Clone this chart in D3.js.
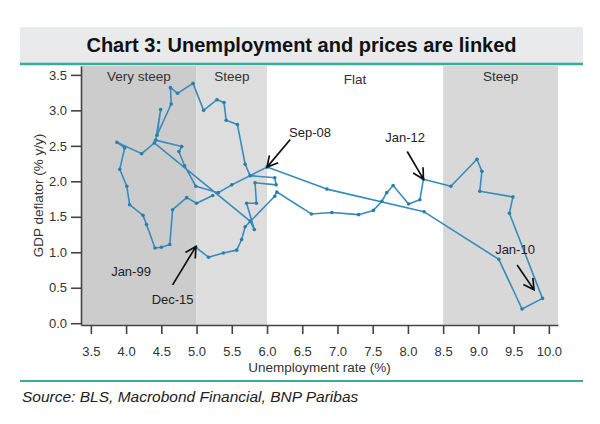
<!DOCTYPE html>
<html><head><meta charset="utf-8">
<script src="https://cdn.jsdelivr.net/npm/d3@7"></script>
<style>
body{margin:0;background:#fff}
svg{display:block}
text{font-family:"Liberation Sans",Arial,Helvetica,sans-serif}
</style>
</head><body>
<svg id="chart" width="600" height="424"></svg>
<script>
// ---- data (path order as drawn) ----
const unemployment = [5.23,5.00,4.86,4.66,4.62,4.50,4.41,4.29,4.24,4.05,4.01,3.91,3.98,3.87,4.22,4.40,
  5.76,5.82,5.71,5.85,5.83,6.13,6.11,5.76,5.69,5.58,5.42,5.39,5.29,5.10,4.95,4.73,4.63,4.64,4.44,4.49,4.42,
  4.79,4.75,4.83,4.99,5.31,5.50,6.00,6.85,8.23,9.29,9.62,9.91,9.44,9.49,9.02,9.05,8.98,8.61,8.22,8.17,8.01,
  7.79,7.70,7.63,7.51,7.30,6.92,6.63,6.14,6.11,5.69,5.64,5.57,5.38,5.17,4.99];
const deflator = [1.80,1.69,1.77,1.60,1.11,1.07,1.06,1.39,1.52,1.67,1.93,2.17,2.47,2.55,2.39,2.54,
  1.44,1.32,1.69,1.69,1.98,1.95,2.05,2.08,2.24,2.80,2.86,3.11,3.15,3.00,3.38,3.24,3.32,3.09,2.65,3.01,2.58,
  2.49,2.42,2.22,1.93,1.84,1.95,2.20,1.89,1.57,0.90,0.20,0.35,1.55,1.78,1.86,2.14,2.31,1.93,2.03,1.74,1.68,
  1.94,1.84,1.72,1.59,1.53,1.56,1.54,1.85,1.79,1.36,1.18,1.03,0.99,0.93,1.07];

const xTicks = [3.5,4.0,4.5,5.0,5.5,6.0,6.5,7.0,7.5,8.0,8.5,9.0,9.5,10.0];
const yTicks = [0.0,0.5,1.0,1.5,2.0,2.5,3.0,3.5];
const xDomain = [3.36, 10.13];
const yDomain = [-0.025, 3.625];

const regionNames = ["Very steep","Steep","Flat","Steep"];
const regionStart = [3.36, 5.0, 6.0, 8.5];
const regionEnd   = [5.0, 6.0, 8.5, 10.13];
const regionLabelY = [3.41, 3.41, 3.37, 3.41];

const annotLabels = ["Sep-08","Jan-12","Jan-10","Jan-99","Dec-15"];
const annotTextX  = [6.61, 7.96, 9.52, 4.07, 4.66];
const annotTextY  = [2.62, 2.55, 0.98, 0.67, 0.27];
const arrowFromX  = [6.33, 7.99, 9.55, null, 4.66];
const arrowFromY  = [2.59, 2.42, 0.82, null, 0.54];
const arrowToX    = [6.00, 8.22, 9.79, null, 4.99];
const arrowToY    = [2.20, 2.03, 0.47, null, 1.08];

const titleText = "Chart 3: Unemployment and prices are linked";
const xLabel = "Unemployment rate (%)";
const yLabel = "GDP deflator (% y/y)";
const sourceText = "Source: BLS, Macrobond Financial, BNP Paribas";

// ---- layout & style ----
const W = 600, H = 424;
const plot = {left:81, right:558, top:66, bottom:325};
const regionFill = ["#cccccc","#dddddd",null,"#d8d8d8"];
const lineColor = "#368cbd";
const teal = "#35ad98";

const svg = d3.select("#chart");
svg.append("rect").attr("width",W).attr("height",H).attr("fill","#fff");

// title banner
svg.append("rect").attr("x",20).attr("y",27).attr("width",563).attr("height",37).attr("fill","#e8eaec");
svg.append("line").attr("x1",20).attr("x2",583).attr("y1",64).attr("y2",64)
  .attr("stroke",teal).attr("stroke-width",2.5);
svg.append("text").attr("x",301.5).attr("y",52).attr("text-anchor","middle")
  .attr("font-size",20).attr("font-weight","bold").attr("fill","#111").text(titleText);

const x = d3.scaleLinear().domain(xDomain).range([plot.left, plot.right]);
const y = d3.scaleLinear().domain(yDomain).range([plot.bottom, plot.top]);

// regions
const regions = regionNames.map((n,i)=>({name:n,a:regionStart[i],b:regionEnd[i],ly:regionLabelY[i],fill:regionFill[i]}));
svg.append("g").selectAll("rect").data(regions.filter(r=>r.fill)).join("rect")
  .attr("x",d=>x(d.a)).attr("width",d=>x(d.b)-x(d.a))
  .attr("y",y(yDomain[1])).attr("height",y(yDomain[0])-y(yDomain[1]))
  .attr("fill",d=>d.fill);
svg.append("g").selectAll("text").data(regions).join("text")
  .attr("x",d=>(x(d.a)+x(d.b))/2).attr("y",d=>y(d.ly))
  .attr("text-anchor","middle").attr("font-size",13.5).attr("fill","#333").text(d=>d.name);

// axes
const axStyle = g => {
  g.selectAll("path.domain").attr("stroke","#444").attr("stroke-width",1.6);
  g.selectAll(".tick line").attr("stroke","#444").attr("stroke-width",1.6);
  g.selectAll(".tick text").attr("font-size",13).attr("fill","#333")
    .attr("font-family","'Liberation Sans',Arial,sans-serif");
};
svg.append("g").attr("transform",`translate(0,${plot.bottom})`)
  .call(d3.axisBottom(x).tickValues(xTicks).tickFormat(d3.format(".1f")).tickSize(9).tickSizeOuter(0).tickPadding(12.5))
  .call(axStyle);
svg.append("g").attr("transform",`translate(${plot.left},0)`)
  .call(d3.axisLeft(y).tickValues(yTicks).tickFormat(d3.format(".1f")).tickSize(10).tickSizeOuter(0).tickPadding(4))
  .call(axStyle);

svg.append("text").attr("x",(plot.left+plot.right)/2).attr("y",371.5).attr("text-anchor","middle")
  .attr("font-size",13.5).attr("fill","#333").text(xLabel);
svg.append("text").attr("transform",`translate(43,${(plot.top+plot.bottom)/2}) rotate(-90)`)
  .attr("text-anchor","middle").attr("font-size",13.5).attr("fill","#333").text(yLabel);

// series
const pts = unemployment.map((u,i)=>[u,deflator[i]]);
svg.append("path").datum(pts)
  .attr("d", d3.line().x(d=>x(d[0])).y(d=>y(d[1])))
  .attr("fill","none").attr("stroke",lineColor).attr("stroke-width",1.6).attr("stroke-linejoin","round");
svg.append("g").selectAll("circle").data(pts).join("circle")
  .attr("cx",d=>x(d[0])).attr("cy",d=>y(d[1])).attr("r",1.8).attr("fill","#2a7eae");

// annotations
const ann = annotLabels.map((t,i)=>({t, tx:annotTextX[i], ty:annotTextY[i],
  fx:arrowFromX[i], fy:arrowFromY[i], ex:arrowToX[i], ey:arrowToY[i]}));
const ag = svg.append("g");
ann.forEach(a=>{
  ag.append("text").attr("x",x(a.tx)).attr("y",y(a.ty)).attr("text-anchor","middle")
    .attr("font-size",13).attr("fill","#222").text(a.t);
  if (a.fx===null) return;
  const x1=x(a.fx), y1=y(a.fy), x2=x(a.ex), y2=y(a.ey);
  const th=Math.atan2(y2-y1,x2-x1), L=12, al=0.5;
  const p = d3.path();
  p.moveTo(x1,y1); p.lineTo(x2,y2);
  p.moveTo(x2-L*Math.cos(th-al), y2-L*Math.sin(th-al)); p.lineTo(x2,y2);
  p.lineTo(x2-L*Math.cos(th+al), y2-L*Math.sin(th+al));
  ag.append("path").attr("d",p.toString()).attr("fill","none").attr("stroke","#111")
    .attr("stroke-width",1.7).attr("stroke-linejoin","miter");
});

// footer
svg.append("line").attr("x1",20).attr("x2",583).attr("y1",381).attr("y2",381)
  .attr("stroke",teal).attr("stroke-width",1.8);
svg.append("text").attr("x",22).attr("y",402).attr("font-size",15.5).attr("font-style","italic")
  .attr("fill","#222").text(sourceText);
</script>
</body></html>
